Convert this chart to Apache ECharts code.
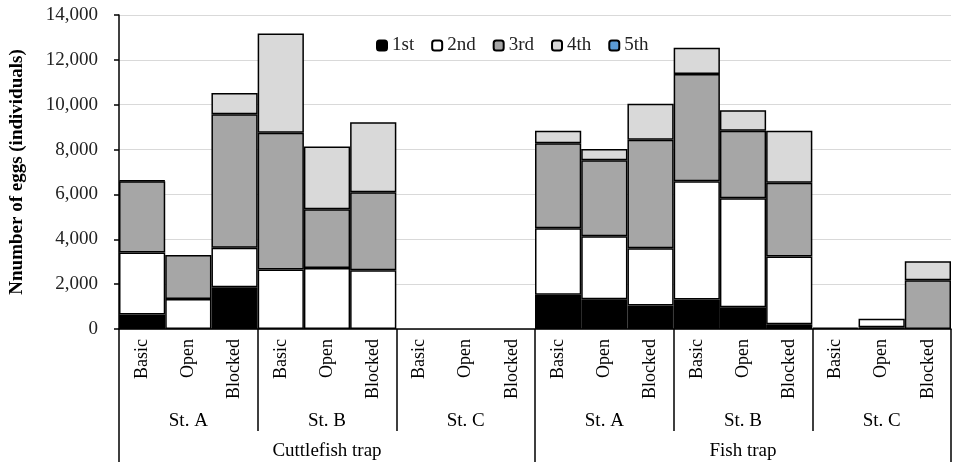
<!DOCTYPE html>
<html><head><meta charset="utf-8">
<script src="https://cdn.jsdelivr.net/npm/echarts@6/dist/echarts.min.js"></script>
<style>html,body{margin:0;padding:0;background:#fff}#c{width:959px;height:470px}</style>
</head><body><div id="c"></div>
<script>
const categories = ['Basic','Open','Blocked','Basic','Open','Blocked','Basic','Open','Blocked',
                    'Basic','Open','Blocked','Basic','Open','Blocked','Basic','Open','Blocked'];
const stations = ['St. A','St. B','St. C','St. A','St. B','St. C'];
const traps = ['Cuttlefish trap','Fish trap'];
const seriesNames = ['1st','2nd','3rd','4th','5th'];
const s1st = [650,0,1860, 0,0,0, 0,0,0, 1530,1330,1050, 1310,970,210, 60,80,0];
const s2nd = [2760,1340,1760, 2650,2720,2620, 0,0,0, 2960,2810,2550, 5280,4860,3020, 0,380,0];
const s3rd = [3180,1960,5960, 6100,2620,3480, 0,0,0, 3790,3380,4840, 4780,3010,3290, 0,0,2170];
const s4th = [30,0,940, 4420,2800,3120, 0,0,0, 560,500,1600, 1170,910,2320, 0,0,850];
const s5th = [0,0,0, 0,0,0, 0,0,0, 0,0,0, 0,0,0, 0,0,0];
const yTicks = {min:0, max:14000, interval:2000};

const colors = ['#000000','#ffffff','#a6a6a6','#d9d9d9','#5b9bd5'];
const allData = [s1st,s2nd,s3rd,s4th,s5th];
const FONT = '"Liberation Serif","Times New Roman",serif';

const chart = echarts.init(document.getElementById('c'));
chart.setOption({
  animation:false,
  textStyle:{fontFamily:FONT},
  legend:{
    top:31, left:371, itemWidth:10, itemHeight:10, itemGap:17,
    textStyle:{fontFamily:FONT, fontSize:19, color:'#222'},
    data:seriesNames
  },
  grid:{left:119, right:8, top:15, bottom:141},
  xAxis:[
    {type:'category', data:categories, position:'bottom',
     axisLine:{show:true, lineStyle:{color:'#000', width:1.5}},
     axisTick:{show:false},
     axisLabel:{rotate:90, margin:10, fontFamily:FONT, fontSize:18, color:'#000', interval:0}},
    {type:'category', data:stations, position:'bottom', gridIndex:0,
     axisLine:{show:false},
     axisTick:{show:true, length:102, lineStyle:{color:'#000', width:1.5}},
     axisLabel:{margin:83, fontFamily:FONT, fontSize:19, color:'#000', interval:0}},
    {type:'category', data:traps, position:'bottom', gridIndex:0,
     axisLine:{show:false},
     axisTick:{show:true, length:133, lineStyle:{color:'#000', width:1.5}},
     axisLabel:{margin:113, fontFamily:FONT, fontSize:19, color:'#000', interval:0}}
  ],
  yAxis:{
    type:'value', min:yTicks.min, max:yTicks.max, interval:yTicks.interval,
    name:'Nnumber of eggs (individuals)', nameLocation:'middle', nameGap:92,
    nameTextStyle:{fontFamily:FONT, fontSize:19, fontWeight:'bold', color:'#000'},
    axisLine:{show:true, lineStyle:{color:'#000', width:1.5}},
    axisTick:{show:true, length:5, lineStyle:{color:'#000', width:1.5}},
    axisLabel:{margin:21, fontFamily:FONT, fontSize:19, color:'#222',
      formatter:v=>v.toLocaleString('en-US')},
    splitLine:{show:true, lineStyle:{color:'#d9d9d9', width:1}}
  },
  series: seriesNames.map((n,i)=>({
    name:n, type:'bar', stack:'eggs', xAxisIndex:0,
    barCategoryGap:'0%',
    itemStyle:{color:colors[i], borderColor:'#000', borderWidth:1.5},
    data: allData[i].map(v=> v===0 ? '-' : v)
  }))
});
</script></body></html>
